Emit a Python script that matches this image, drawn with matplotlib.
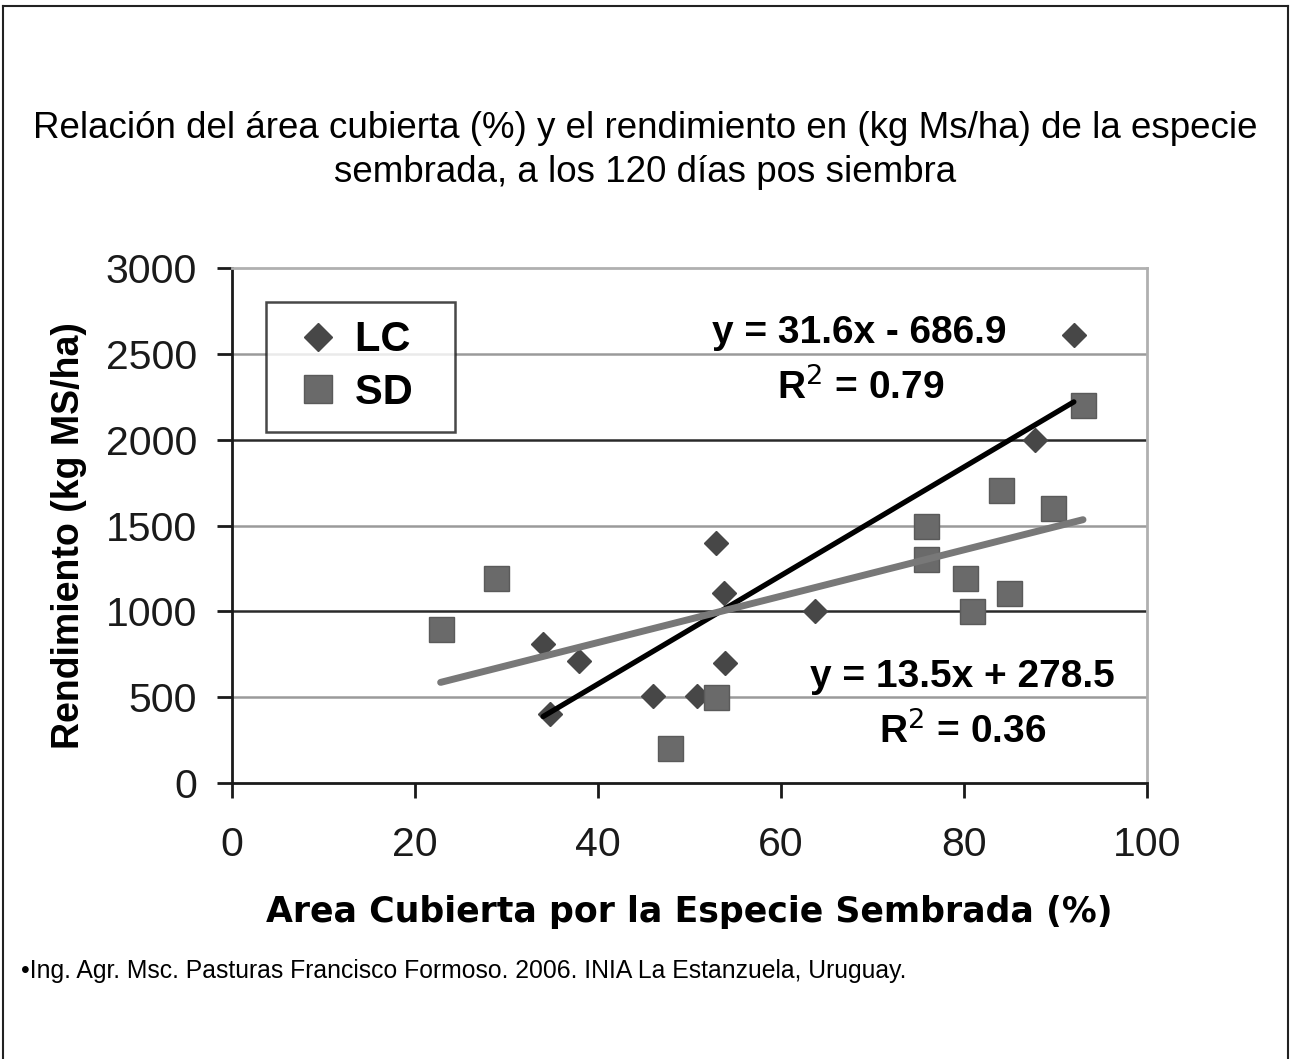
import matplotlib
matplotlib.use('Agg')
from matplotlib import pyplot as plt
from matplotlib.lines import Line2D
import numpy as np

plt.rcParams['font.family'] = ['Liberation Sans', 'DejaVu Sans']

# LC (diamonds)
lc_x = [92, 87.8, 52.9, 53.8, 63.7, 34.0, 37.9, 53.9, 46.0, 50.8, 34.8]
lc_y = [2610, 2000, 1400, 1105, 1005, 810, 710, 700, 505, 505, 400]
# SD (squares)
sd_x = [93.0, 84.0, 89.7, 75.8, 75.8, 80.1, 84.9, 80.9, 28.9, 22.8, 52.9, 47.9]
sd_y = [2200, 1705, 1600, 1495, 1305, 1195, 1105, 1005, 1195, 900, 500, 205]

# trendlines (Excel linear fits)
lc_fit = (31.6, -686.9)
sd_fit = (13.5, 278.5)

fig = plt.figure(figsize=(12.91, 10.59), dpi=100)
ax = fig.add_axes([0.1797, 0.2606, 0.7088, 0.4863])

ax.set_xlim(0, 100)
ax.set_ylim(0, 3000)
ax.set_xticks(np.arange(0, 101, 20))
ax.set_yticks(np.arange(0, 3001, 500))

# gridlines: 1000/2000 dark, others light
for yv in [500, 1500, 2500]:
    ax.axhline(yv, color='#9a9a9a', lw=1.8, zorder=1)
for yv in [1000, 2000]:
    ax.axhline(yv, color='#2a2a2a', lw=1.8, zorder=1)

ax.plot(lc_x, lc_y, ls='none', marker='D', ms=12.5, color='#474747', zorder=3, label='LC  ')
ax.plot(sd_x, sd_y, ls='none', marker='s', ms=18, color='#6a6a6a', mec='#5a5a5a', zorder=4, label='SD  ')

xl = np.array([min(lc_x), max(lc_x)])
ax.plot(xl, lc_fit[0] * xl + lc_fit[1], color='black', lw=3.8, zorder=5, solid_capstyle='round')
xs = np.array([min(sd_x), max(sd_x)])
ax.plot(xs, sd_fit[0] * xs + sd_fit[1], color='#787878', lw=5, zorder=5, solid_capstyle='round')

for s in ['top', 'right']:
    ax.spines[s].set_color('#b0b0b0')
    ax.spines[s].set_linewidth(2)
for s in ['left', 'bottom']:
    ax.spines[s].set_color('#1a1a1a')
    ax.spines[s].set_linewidth(2)

ax.tick_params(axis='y', direction='out', length=11, width=2, pad=14, labelsize=29.5, colors='#1a1a1a')
ax.tick_params(axis='x', direction='out', length=11, width=2, pad=20, labelsize=29.5, colors='#1a1a1a')

ax.set_ylabel('Rendimiento (kg MS/ha)', fontsize=27, fontweight='bold')
ax.yaxis.set_label_coords(-0.158, 0.48)
ax.set_xlabel('Area Cubierta por la Especie Sembrada (%)', fontsize=25, fontweight='bold',
              family=['DejaVu Sans'], labelpad=22)

eq_kw = dict(fontsize=28, fontweight='bold', ha='center', va='center', zorder=6)
ax.text(68.5, 2620, 'y = 31.6x - 686.9', **eq_kw)
ax.text(68.7, 2305, 'R$^2$ = 0.79', **eq_kw)
ax.text(79.8, 620, 'y = 13.5x + 278.5', **eq_kw)
ax.text(79.8, 305, 'R$^2$ = 0.36', **eq_kw)

leg = ax.legend(loc='upper left', bbox_to_anchor=(0.037, 0.935), frameon=True,
                fancybox=False, edgecolor='#1a1a1a', handletextpad=0.1, borderpad=0.45,
                labelspacing=0.3, handlelength=1.6, borderaxespad=0,
                prop={'weight': 'bold', 'size': 30}, markerscale=1.1)
leg.get_frame().set_linewidth(1.8)

fig.text(0.5, 0.858, 'Relación del área cubierta (%) y el rendimiento en (kg Ms/ha) de la especie\n'
         'sembrada, a los 120 días pos siembra', ha='center', va='center', fontsize=26.5,
         linespacing=1.35)

fig.text(0.016, 0.083, '•Ing. Agr. Msc. Pasturas Francisco Formoso. 2006. INIA La Estanzuela, Uruguay.',
         ha='left', va='center', fontsize=17.8, family=['Liberation Sans Narrow', 'Liberation Sans'])

# outer frame
for xs_, ys_ in [([0.002, 0.002], [0.0, 0.994]), ([0.002, 0.998], [0.994, 0.994]),
                 ([0.998, 0.998], [0.994, 0.0])]:
    fig.add_artist(Line2D(xs_, ys_, color='#222222', lw=1.5, transform=fig.transFigure))

fig.savefig('out.png', dpi=100, facecolor='white')
